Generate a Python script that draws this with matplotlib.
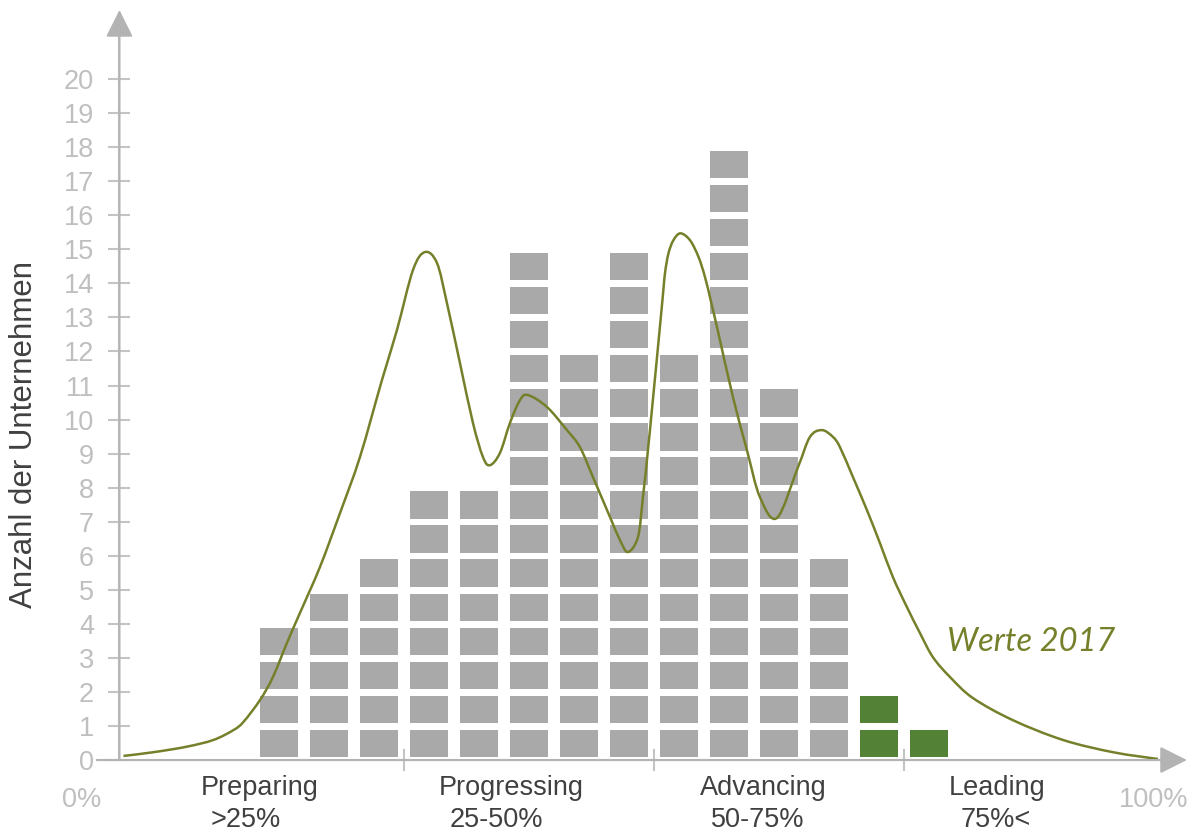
import matplotlib
matplotlib.use("Agg")
import matplotlib.pyplot as plt
from matplotlib.patches import Rectangle, PathPatch
from matplotlib.path import Path

# counts per column (column index = position on the x axis)
gray_counts = [4, 5, 6, 8, 8, 15, 12, 15, 12, 18, 11, 6]
green_counts = [2, 1]

categories = ["Preparing", "Progressing", "Advancing", "Leading"]
ranges = [">25%", "25-50%", "50-75%", "75%<"]
y_ticks = list(range(0, 21))

# "Werte 2017" curve (x in columns, y in companies)
curve_x = [-3.11, -2.51, -1.85, -1.31, -0.91, -0.71, -0.38, -0.12, 0.16, 0.42,
           0.82, 1.22, 1.62, 2.06, 2.36, 2.68, 2.92, 3.16, 3.36, 3.62,
           3.88, 4.08, 4.22, 4.42, 4.62, 4.82, 4.98, 5.36, 5.76, 6.02,
           6.28, 6.62, 6.82, 6.98, 7.18, 7.28, 7.42, 7.67, 7.72, 7.79,
           7.89, 8.03, 8.22, 8.39, 8.52, 8.65, 8.79, 9.08, 9.36, 9.62,
           9.96, 10.38, 10.62, 10.86, 11.08, 11.22, 11.48, 11.76, 12.02, 12.28,
           12.56, 12.82, 13.08, 13.42, 13.88, 14.68, 15.68, 16.68, 17.58]
curve_y = [0.12, 0.23, 0.39, 0.59, 0.88, 1.12, 1.76, 2.44, 3.44, 4.32,
           5.67, 7.25, 8.90, 11.16, 12.63, 14.39, 14.92, 14.60, 13.42, 11.66,
           9.90, 8.90, 8.66, 9.02, 9.90, 10.57, 10.72, 10.37, 9.69, 9.19,
           8.31, 7.14, 6.46, 6.11, 6.55, 7.72, 9.69, 13.51, 14.29, 14.88,
           15.27, 15.47, 15.27, 14.78, 14.19, 13.41, 12.53, 10.66, 9.10, 7.72,
           7.11, 8.60, 9.49, 9.69, 9.49, 9.19, 8.31, 7.34, 6.37, 5.37,
           4.49, 3.73, 3.02, 2.44, 1.82, 1.17, 0.59, 0.23, 0.03]

GRAY_BLOCK = "#a9a9a9"
GREEN_BLOCK = "#538135"
OLIVE = "#76802a"
AXIS = "#c4c4c4"
ARROW = "#b3b3b3"
LIGHT_TXT = "#bfbfbf"
DARK_TXT = "#404040"

plt.rcParams["font.family"] = ["Liberation Sans", "DejaVu Sans"]

fig = plt.figure(figsize=(11.91, 8.33), dpi=100)
ax = fig.add_axes([0.1003, 0.0876, 0.8963, 0.9004])
ax.set_xlim(-3.19, 18.16)
ax.set_ylim(0, 22.03)
for s in ax.spines.values():
    s.set_visible(False)


def draw_stack(col, count, color):
    for k in range(count):
        ax.add_patch(Rectangle((col - 0.38, k + 0.09), 0.76, 0.8,
                               facecolor=color, edgecolor="none", zorder=2))


def smooth_path(xs, ys):
    # catmull-rom through the points, drawn as cubic bezier segments
    pts = list(zip(xs, ys))
    verts = [pts[0]]
    codes = [Path.MOVETO]
    n = len(pts)
    for i in range(n - 1):
        p0 = pts[max(i - 1, 0)]
        p1 = pts[i]
        p2 = pts[i + 1]
        p3 = pts[min(i + 2, n - 1)]
        c1 = (p1[0] + (p2[0] - p0[0]) / 6, p1[1] + (p2[1] - p0[1]) / 6)
        c2 = (p2[0] - (p3[0] - p1[0]) / 6, p2[1] - (p3[1] - p1[1]) / 6)
        verts += [c1, c2, p2]
        codes += [Path.CURVE4] * 3
    return Path(verts, codes)


for i, c in enumerate(gray_counts):
    draw_stack(i, c, GRAY_BLOCK)
for j, c in enumerate(green_counts):
    draw_stack(len(gray_counts) + j, c, GREEN_BLOCK)

ax.add_patch(PathPatch(smooth_path(curve_x, curve_y), facecolor="none",
                       edgecolor=OLIVE, lw=1.8, zorder=3, clip_on=False))
ax.text(15.04, 3.47, "Werte 2017", color=OLIVE, fontsize=23.5, style="italic",
        family=["Lato", "DejaVu Sans"], ha="center", va="center")

# axes with arrow heads
arrow = dict(arrowstyle="-|>,head_length=0.4,head_width=0.2", color=AXIS,
             lw=1.5, mutation_scale=42, shrinkA=0, shrinkB=0)
ax.annotate("", xy=(0, 1), xytext=(0, 0), xycoords="axes fraction",
            arrowprops=dict(arrow, fc=ARROW, ec=ARROW), annotation_clip=False)
ax.annotate("", xy=(1, 0), xytext=(-0.021, 0), xycoords="axes fraction",
            arrowprops=dict(arrow, fc=ARROW, ec=ARROW), annotation_clip=False)
ax.plot([-3.64, 17.6], [0, 0], color=AXIS, lw=1.5, clip_on=False, zorder=1)
ax.plot([-3.19, -3.19], [0, 21.3], color=AXIS, lw=1.5, clip_on=False, zorder=1)

ax.set_yticks(y_ticks)
ax.set_yticklabels([str(t) for t in y_ticks])
ax.tick_params(axis="y", direction="inout", length=16, width=1.5, color=AXIS,
               labelsize=19.5, labelcolor=LIGHT_TXT, pad=10.4)
ax.set_xticks([2.5, 7.5, 12.5])
ax.set_xticklabels([])
ax.tick_params(axis="x", direction="inout", length=16, width=1.5, color=AXIS)

# category labels under the axis
cat_x = [-0.38, 4.64, 9.68, 14.36]
rng_x = [-0.66, 4.34, 9.58, 14.34]
for cx, rx, name, r in zip(cat_x, rng_x, categories, ranges):
    ax.text(cx, -1.03, name, ha="center", va="baseline", fontsize=19.5,
            color=DARK_TXT, clip_on=False)
    ax.text(rx, -1.97, r, ha="center", va="baseline", fontsize=19.5,
            color=DARK_TXT, clip_on=False)
ax.text(-3.94, -1.38, "0%", ha="center", va="baseline", fontsize=19.5,
        color=LIGHT_TXT, clip_on=False)
ax.text(17.5, -1.38, "100%", ha="center", va="baseline", fontsize=19.5,
        color=LIGHT_TXT, clip_on=False)

fig.text(24 / 1191, 1 - 435 / 833, "Anzahl der Unternehmen", rotation=90,
         ha="center", va="center", fontsize=22.5, color=DARK_TXT)

fig.savefig("out.png", dpi=100)
